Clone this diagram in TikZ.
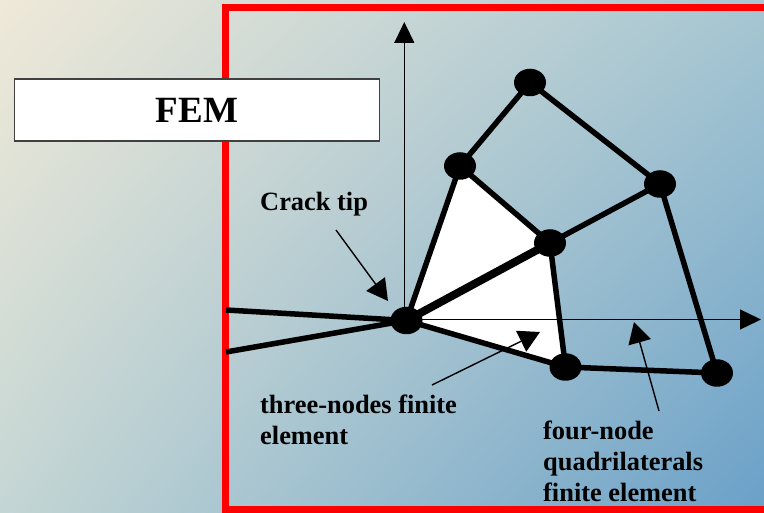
\documentclass[tikz,border=0pt]{standalone}
\usepackage{fontspec}
\setmainfont{Liberation Serif}
\usetikzlibrary{arrows.meta,shapes.geometric,shadings,backgrounds}
\definecolor{bgTL}{HTML}{EFE9D8}
\definecolor{bgTR}{HTML}{A6C6D2}
\definecolor{bgBL}{HTML}{C4D6D4}
\definecolor{bgBR}{HTML}{6AA0C8}
\tikzset{
  meshnode/.style={ellipse,fill=black,minimum width=32pt,minimum height=27.5pt,inner sep=0pt},
  meshedge/.style={line width=5.5pt},
  axisline/.style={line width=1.4pt,-{Triangle[length=21pt,width=20pt]}},
  pointer/.style={line width=1.4pt,-{Triangle[length=21pt,width=23pt]}},
  notelabel/.style={anchor=base west,align=left,inner sep=0pt,font=\fontsize{26.4}{31}\selectfont\bfseries}
}
\begin{document}
\begin{tikzpicture}[x=1pt,y=-1pt]
  \useasboundingbox (0,0) rectangle (764,513);
  % mesh nodes
  \node[meshnode] (tip) at (406.5,320.5) {};
  \node[meshnode] (a) at (460,166) {};
  \node[meshnode] (b) at (530,82.5) {};
  \node[meshnode] (c) at (660,184) {};
  \node[meshnode] (d) at (550,243) {};
  \node[meshnode] (e) at (565.5,367) {};
  \node[meshnode] (f) at (717,373) {};
  \coordinate (crackup) at (226,310);
  \coordinate (crackdown) at (226,352);
  \coordinate (yfoot) at (404.3,320);
  \coordinate (ytop) at (404.3,22);
  \coordinate (xend) at (761,319.5);
  \begin{scope}[on background layer]
    \shade[upper left=bgTL,upper right=bgTR,lower left=bgBL,lower right=bgBR] (0,0) rectangle (764,513);
    \draw[red,line width=7pt] (780,7.5)--(225.5,7.5)--(225.5,509.5)--(780,509.5);
    % white triangles
    \fill[white] (tip.center)--(a.center)--(d.center)--cycle;
    \fill[white] (tip.center)--(d.center)--(e.center)--cycle;
    \draw[axisline] (yfoot)--(ytop);
    \draw[axisline] (tip.center|-xend)--(xend);
    \foreach \s/\t in {crackup/tip,crackdown/tip,tip/a,tip/e,a/b,b/c,c/d,d/a,d/e,c/f,e/f}
      \draw[meshedge] (\s.center)--(\t.center);
    \draw[line width=8pt] (tip.center)--(d.center);
  \end{scope}
  \node[draw=black!75,line width=1.5pt,fill=white,minimum width=365pt,minimum height=62pt,inner sep=0pt] (title) at (197,110)
    {\fontsize{37}{40}\selectfont\bfseries FEM};
  % labels
  \node[notelabel] (cracklabel) at (260,211) {Crack tip};
  \node[notelabel] (threelabel) at (260,444) {three-nodes finite\\element};
  \node[notelabel] (fourlabel) at (543,501) {four-node\\quadrilaterals\\finite element};
  \coordinate (crackfrom) at (336,230);
  \coordinate (crackto) at (388,301);
  \coordinate (threefrom) at (432,385);
  \coordinate (threeto) at (540,332);
  \coordinate (fourfrom) at (659,411);
  \coordinate (fourto) at (634,322);
  \draw[pointer] (crackfrom)--(crackto);
  \draw[pointer] (threefrom)--(threeto);
  \draw[pointer] (fourfrom)--(fourto);
\end{tikzpicture}
\end{document}
